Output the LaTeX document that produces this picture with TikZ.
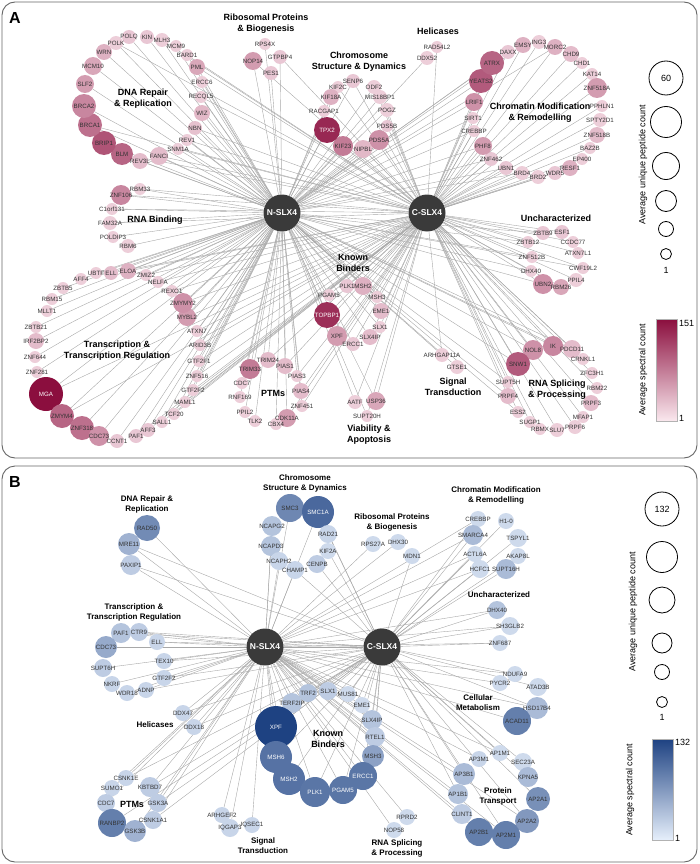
\documentclass[tikz,border=0pt]{standalone}
\usepackage{fontspec}
\setmainfont{Liberation Sans}
\pgfdeclarelayer{edges}
\pgfdeclarelayer{labels}
\pgfsetlayers{edges,main,labels}
\definecolor{amax}{RGB}{139,14,62}
\definecolor{amin}{RGB}{250,232,238}
\definecolor{bmax}{RGB}{30,66,130}
\definecolor{bmin}{RGB}{230,239,251}
\definecolor{hubgray}{RGB}{58,58,58}
\tikzset{
  gene/.style={circle, inner sep=0pt, draw=none},
  gtext/.style={font=\fontsize{6.2}{7}\selectfont, inner sep=0pt},
  cat/.style={font=\bfseries\fontsize{9}{11}\selectfont, align=center, inner sep=1pt},
  catb/.style={cat, font=\bfseries\fontsize{8}{10}\selectfont},
  hub/.style={circle, fill=hubgray, minimum size=37pt, inner sep=0pt, text=white,
    font=\bfseries\fontsize{8.5}{10}\selectfont},
  edge/.style={draw=black!34, line width=0.4pt},
  frame/.style={draw=black!60, line width=0.9pt, rounded corners=13pt},
  sizekey/.style={circle, draw=black, line width=0.8pt, inner sep=0pt},
  keytext/.style={font=\fontsize{9}{10}\selectfont, inner sep=0pt},
  panel/.style={font=\bfseries\fontsize{16}{18}\selectfont},
}
%% gene node: colour set, name, position, label, radius, percent
\newcommand{\gnode}[6]{%
  \ifnum#6>69 \def\gtc{white}\else\def\gtc{black!80}\fi
  \node[gene, minimum size={2*#5pt}, fill=#1max!#6!#1min] (#2) at (#3) {};
  \begin{pgfonlayer}{labels}
    \node[gtext, text=\gtc] (#2-t) at (#2) {#4};
  \end{pgfonlayer}}
\begin{document}
\begin{tikzpicture}[x=1pt,y=-1pt]
\useasboundingbox (0,0) rectangle (700,864);
\draw[frame] (2,2) rectangle (697,458);
\draw[frame] (2,466) rectangle (697,862);
\node[panel] (labA) at (15,18) {A};
\node[panel] (labB) at (15,482) {B};

%%%%%%%%%%%%%%%% panel A
\node[hub] (aN) at (282,213) {N-SLX4};
\node[hub] (aC) at (427,213) {C-SLX4};

%% DNA Repair & Replication
\gnode{a}{aPOLQ}{129,37}{POLQ}{7}{15}
\gnode{a}{aKIN}{147,37}{KIN}{7}{15}
\gnode{a}{aMLH3}{162,40}{MLH3}{7}{12}
\gnode{a}{aMCM9}{176,46}{MCM9}{6}{12}
\gnode{a}{aBARD1}{187,55}{BARD1}{6}{12}
\gnode{a}{aPML}{197,67}{PML}{8}{30}
\gnode{a}{aERCC6}{202,82}{ERCC6}{6}{12}
\gnode{a}{aRECQL5}{201,97}{RECQL5}{6}{12}
\gnode{a}{aWIZ}{202,113}{WIZ}{8}{22}
\gnode{a}{aNBN}{195,128}{NBN}{7}{18}
\gnode{a}{aREV1}{187,140}{REV1}{6}{12}
\gnode{a}{aSNM1A}{178,149}{SNM1A}{6}{12}
\gnode{a}{aFANCI}{159,156}{FANCI}{9}{20}
\gnode{a}{aREV3L}{140,161}{REV3L}{8}{20}
\gnode{a}{aBLM}{122,154}{BLM}{11}{60}
\gnode{a}{aBRIP1}{104,143}{BRIP1}{12}{68}
\gnode{a}{aBRCA1}{90,125}{BRCA1}{12}{55}
\gnode{a}{aBRCA2}{84,106}{BRCA2}{12}{45}
\gnode{a}{aSLF2}{85,84}{SLF2}{9}{35}
\gnode{a}{aMCM10}{93,66}{MCM10}{9}{30}
\gnode{a}{aWRN}{104,52}{WRN}{8}{25}
\gnode{a}{aPOLK}{116,43}{POLK}{7}{12}
\node[cat] (aDNAlab) at (143,99) {DNA Repair\\\& Replication};

%% Ribosomal Proteins & Biogenesis
\gnode{a}{aRPS4X}{265,44}{RPS4X}{6}{12}
\gnode{a}{aNOP14}{253,61}{NOP14}{9}{35}
\gnode{a}{aGTPBP4}{280,57}{GTPBP4}{7}{15}
\gnode{a}{aPES1}{271,73}{PES1}{7}{15}
\node[cat] (aRibolab) at (266,24) {Ribosomal Proteins\\\& Biogenesis};

%% Chromosome Structure & Dynamics
\gnode{a}{aSENP6}{353,81}{SENP6}{7}{15}
\gnode{a}{aKIF2C}{338,87}{KIF2C}{6}{12}
\gnode{a}{aODF2}{374,87}{ODF2}{7}{12}
\gnode{a}{aKIF18A}{331,97}{KIF18A}{8}{25}
\gnode{a}{aMISBP}{380,97}{MIS18BP1}{7}{12}
\gnode{a}{aRACGAP1}{324,111}{RACGAP1}{6}{12}
\gnode{a}{aPOGZ}{387,110}{POGZ}{7}{12}
\gnode{a}{aPDS5B}{387,126}{PDS5B}{6}{15}
\gnode{a}{aPDS5A}{379,140}{PDS5A}{10}{40}
\gnode{a}{aNIPBL}{363,149}{NIPBL}{9}{22}
\gnode{a}{aKIF23}{343,146}{KIF23}{10}{50}
\gnode{a}{aTPX2}{327,130}{TPX2}{13}{88}
\node[cat] (aChromlab) at (359,62) {Chromosome\\Structure \& Dynamics};

%% Helicases
\gnode{a}{aRAD54L2}{437,47}{RAD54L2}{6}{12}
\gnode{a}{aDDX52}{427,58}{DDX52}{7}{12}
\node[cat] (aHelilab) at (438,31) {Helicases};

%% Chromatin Modification & Remodelling
\gnode{a}{aDAXX}{508,52}{DAXX}{7}{15}
\gnode{a}{aEMSY}{523,45}{EMSY}{8}{25}
\gnode{a}{aING3}{539,42}{ING3}{7}{12}
\gnode{a}{aMORC2}{555,47}{MORC2}{8}{25}
\gnode{a}{aCHD9}{571,54}{CHD9}{8}{20}
\gnode{a}{aCHD1}{582,63}{CHD1}{6}{12}
\gnode{a}{aKAT14}{592,74}{KAT14}{6}{12}
\gnode{a}{aZNF518A}{597,88}{ZNF518A}{10}{35}
\gnode{a}{aPPHLN1}{602,106}{PPHLN1}{6}{12}
\gnode{a}{aSPTY2D1}{600,120}{SPTY2D1}{7}{12}
\gnode{a}{aZNF518B}{597,135}{ZNF518B}{8}{20}
\gnode{a}{aBAZ2B}{590,148}{BAZ2B}{6}{12}
\gnode{a}{aEP400}{582,159}{EP400}{6}{12}
\gnode{a}{aRESF1}{570,168}{RESF1}{8}{25}
\gnode{a}{aWDR5}{555,173}{WDR5}{7}{15}
\gnode{a}{aBRD2}{538,177}{BRD2}{7}{12}
\gnode{a}{aBRD4}{522,173}{BRD4}{7}{12}
\gnode{a}{aUBN1}{506,168}{UBN1}{7}{15}
\gnode{a}{aZNF462}{491,159}{ZNF462}{7}{15}
\gnode{a}{aPHF8}{483,146}{PHF8}{9}{35}
\gnode{a}{aCREBBP}{474,131}{CREBBP}{6}{12}
\gnode{a}{aSIRT1}{473,118}{SIRT1}{6}{12}
\gnode{a}{aLRIF1}{474,102}{LRIF1}{9}{40}
\gnode{a}{aYEATS2}{481,81}{YEATS2}{12}{65}
\gnode{a}{aATRX}{492,63}{ATRX}{12}{60}
\node[cat] (aChrmodlab) at (540,113) {Chromatin Modification\\\& Remodelling};

%% RNA Binding
\gnode{a}{aRBM33}{140,189}{RBM33}{6}{12}
\gnode{a}{aZNF106}{121,195}{ZNF106}{10}{45}
\gnode{a}{aC1orf131}{112,209}{C1orf131}{6}{12}
\gnode{a}{aFAM32A}{110,223}{FAM32A}{7}{12}
\gnode{a}{aPOLDIP3}{113,237}{POLDIP3}{6}{12}
\gnode{a}{aRBM6}{128,246}{RBM6}{7}{12}
\node[cat] (aRNAlab) at (155,220) {RNA Binding};

%% Transcription & Transcription Regulation
\gnode{a}{aELOA}{128,271}{ELOA}{8}{25}
\gnode{a}{aELL}{111,273}{ELL}{7}{20}
\gnode{a}{aUBTF}{96,273}{UBTF}{6}{12}
\gnode{a}{aAFF4}{81,279}{AFF4}{6}{12}
\gnode{a}{aZBTB5}{63,288}{ZBTB5}{6}{12}
\gnode{a}{aRBM15}{52,299}{RBM15}{6}{12}
\gnode{a}{aMLLT1}{47,311}{MLLT1}{6}{12}
\gnode{a}{aZBTB21}{36,327}{ZBTB21}{6}{12}
\gnode{a}{aIRF2BP2}{36,341}{IRF2BP2}{8}{20}
\gnode{a}{aZNF644}{35,357}{ZNF644}{6}{12}
\gnode{a}{aZNF281}{37,372}{ZNF281}{6}{12}
\gnode{a}{aMGA}{46,394}{MGA}{17}{100}
\gnode{a}{aZMYM4}{62,416}{ZMYM4}{12}{60}
\gnode{a}{aZNF318}{82,428}{ZNF318}{12}{55}
\gnode{a}{aCDC73}{99,436}{CDC73}{10}{40}
\gnode{a}{aCCNT1}{117,441}{CCNT1}{7}{15}
\gnode{a}{aPAF1}{136,436}{PAF1}{7}{15}
\gnode{a}{aAFF3}{148,430}{AFF3}{7}{15}
\gnode{a}{aSALL1}{162,422}{SALL1}{6}{12}
\gnode{a}{aTCF20}{174,414}{TCF20}{6}{12}
\gnode{a}{aMAML1}{185,402}{MAML1}{6}{12}
\gnode{a}{aGTF2F2}{193,390}{GTF2F2}{6}{12}
\gnode{a}{aZNF516}{197,376}{ZNF516}{6}{12}
\gnode{a}{aGTF2F1}{199,361}{GTF2F1}{6}{12}
\gnode{a}{aARID3B}{200,345}{ARID3B}{6}{12}
\gnode{a}{aATXN7}{197,331}{ATXN7}{6}{12}
\gnode{a}{aMYBL2}{187,317}{MYBL2}{9}{35}
\gnode{a}{aZMYM2}{183,303}{ZMYMY2}{10}{40}
\gnode{a}{aREXO1}{172,291}{REXO1}{6}{12}
\gnode{a}{aNELFA}{158,282}{NELFA}{6}{12}
\gnode{a}{aZMIZ2}{146,275}{ZMIZ2}{6}{12}
\node[cat] (aTranslab) at (117,351) {Transcription \&\\Transcription Regulation};

%% Known Binders
\gnode{a}{aPLK1}{347,286}{PLK1}{7}{15}
\gnode{a}{aMSH2}{363,286}{MSH2}{9}{25}
\gnode{a}{aMSH3}{377,297}{MSH3}{6}{12}
\gnode{a}{aPGAM5}{329,295}{PGAM5}{6}{12}
\gnode{a}{aEME1}{381,311}{EME1}{8}{20}
\gnode{a}{aTOPBP1}{327,315}{TOPBP1}{13}{85}
\gnode{a}{aSLX1}{380,327}{SLX1}{6}{12}
\gnode{a}{aSLX4IP}{370,337}{SLX4IP}{8}{20}
\gnode{a}{aERCC1}{353,344}{ERCC1}{7}{15}
\gnode{a}{aXPF}{337,336}{XPF}{10}{35}
\node[cat] (aKnownlab) at (353,263) {Known\\Binders};

%% PTMs
\gnode{a}{aTRIM24}{268,360}{TRIM24}{8}{20}
\gnode{a}{aTRIM33}{250,369}{TRIM33}{10}{50}
\gnode{a}{aPIAS1}{285,366}{PIAS1}{8}{20}
\gnode{a}{aPIAS3}{297,376}{PIAS3}{6}{12}
\gnode{a}{aPIAS4}{301,391}{PIAS4}{8}{20}
\gnode{a}{aZNF451}{302,406}{ZNF451}{6}{12}
\gnode{a}{aCDK11A}{287,418}{CDK11A}{9}{35}
\gnode{a}{aCBX4}{276,424}{CBX4}{6}{12}
\gnode{a}{aTLK2}{255,421}{TLK2}{6}{12}
\gnode{a}{aPPIL2}{245,412}{PPIL2}{6}{12}
\gnode{a}{aRNF169}{240,397}{RNF169}{6}{12}
\gnode{a}{aCDC7}{242,383}{CDC7}{6}{12}
\node[cat] (aPTMlab) at (273,393) {PTMs};

%% Viability & Apoptosis
\gnode{a}{aAATF}{355,402}{AATF}{7}{12}
\gnode{a}{aUSP36}{376,401}{USP36}{9}{30}
\gnode{a}{aSUPT20H}{367,416}{SUPT20H}{6}{12}
\node[cat] (aViablab) at (369,435) {Viability \&\\Apoptosis};

%% Uncharacterized
\gnode{a}{aZBTB9}{543,233}{ZBTB9}{7}{15}
\gnode{a}{aESF1}{562,232}{ESF1}{7}{15}
\gnode{a}{aZBTB12}{528,242}{ZBTB12}{6}{12}
\gnode{a}{aCCDC77}{573,242}{CCDC77}{6}{12}
\gnode{a}{aZNF512B}{532,257}{ZNF512B}{6}{12}
\gnode{a}{aATXN7L1}{578,253}{ATXN7L1}{6}{12}
\gnode{a}{aDHX40}{531,271}{DHX40}{6}{12}
\gnode{a}{aCWF19L2}{583,268}{CWF19L2}{6}{12}
\gnode{a}{aPPIL4}{576,280}{PPIL4}{7}{12}
\gnode{a}{aUBN2}{543,284}{UBN2}{10}{40}
\gnode{a}{aRBM26}{561,287}{RBM26}{8}{30}
\node[cat] (aUnchlab) at (556,218) {Uncharacterized};

%% Signal Transduction
\gnode{a}{aARHGAP11A}{442,355}{ARHGAP11A}{7}{12}
\gnode{a}{aGTSE1}{457,367}{GTSE1}{7}{12}
\node[cat] (aSignlab) at (453,387) {Signal\\Transduction};

%% RNA Splicing & Processing
\gnode{a}{aNOL8}{533,350}{NOL8}{10}{40}
\gnode{a}{aIK}{553,346}{IK}{10}{45}
\gnode{a}{aPDCD11}{572,349}{PDCD11}{9}{20}
\gnode{a}{aCRNKL1}{583,359}{CRNKL1}{6}{12}
\gnode{a}{aZFC3H1}{592,373}{ZFC3H1}{6}{12}
\gnode{a}{aRBM22}{597,388}{RBM22}{6}{12}
\gnode{a}{aPRPF3}{591,403}{PRPF3}{8}{20}
\gnode{a}{aMFAP1}{583,417}{MFAP1}{6}{12}
\gnode{a}{aPRPF6}{575,427}{PRPF6}{7}{12}
\gnode{a}{aSLU7}{557,430}{SLU7}{7}{12}
\gnode{a}{aRBMX}{540,429}{RBMX}{6}{12}
\gnode{a}{aSUGP1}{530,422}{SUGP1}{6}{12}
\gnode{a}{aESS2}{518,412}{ESS2}{6}{12}
\gnode{a}{aPRPF4}{508,396}{PRPF4}{8}{20}
\gnode{a}{aSUPT5H}{508,382}{SUPT5H}{6}{12}
\gnode{a}{aSNW1}{518,364}{SNW1}{12}{65}
\node[cat] (aSplilab) at (557,390) {RNA Splicing\\\& Processing};

%% edges A
\begin{pgfonlayer}{edges}
\foreach \g in {aPOLQ,aKIN,aMLH3,aMCM9,aBARD1,aPML,aERCC6,aRECQL5,aWIZ,aNBN,aREV1,aSNM1A,aFANCI,aREV3L,aBLM,aBRIP1,aBRCA1,aBRCA2,aSLF2,aMCM10,aWRN,aPOLK,%
  aRPS4X,aNOP14,aGTPBP4,aPES1,aSENP6,aKIF2C,aODF2,aKIF18A,aMISBP,aRACGAP1,aPOGZ,aPDS5B,aPDS5A,aNIPBL,aKIF23,aTPX2,aDDX52,%
  aATRX,aYEATS2,aLRIF1,aSIRT1,aCREBBP,aPHF8,aEMSY,aDAXX,aMORC2,aZNF462,aUBN1,aBRD4,%
  aRBM33,aZNF106,aC1orf131,aFAM32A,aPOLDIP3,aRBM6,%
  aELOA,aELL,aUBTF,aAFF4,aZBTB5,aRBM15,aMLLT1,aZBTB21,aIRF2BP2,aZNF644,aZNF281,aMGA,aZMYM4,aZNF318,aCDC73,aCCNT1,aPAF1,aAFF3,aSALL1,aTCF20,aMAML1,aGTF2F2,aZNF516,aGTF2F1,aARID3B,aATXN7,aMYBL2,aZMYM2,aREXO1,aNELFA,aZMIZ2,%
  aPLK1,aMSH2,aMSH3,aPGAM5,aEME1,aTOPBP1,aSLX1,aSLX4IP,aERCC1,aXPF,%
  aTRIM24,aTRIM33,aPIAS1,aPIAS3,aPIAS4,aZNF451,aCDK11A,aCBX4,aTLK2,aPPIL2,aRNF169,aCDC7,%
  aAATF,aUSP36,aSUPT20H,aZBTB9,aZBTB12,aZNF512B,aDHX40,aUBN2,aCWF19L2,aARHGAP11A,aGTSE1,%
  aSNW1,aNOL8,aIK,aSUPT5H,aPRPF4,aESS2,aPDCD11,aCRNKL1}
  \draw[edge] (aN) -- (\g);
\foreach \g in {aPOLK,aMLH3,aBARD1,aPML,aRECQL5,aNBN,aREV1,aSNM1A,aFANCI,aBRCA1,aBLM,aNOP14,aGTPBP4,%
  aKIF2C,aSENP6,aODF2,aMISBP,aPOGZ,aPDS5B,aPDS5A,aNIPBL,aKIF23,aTPX2,aRAD54L2,%
  aDAXX,aEMSY,aING3,aMORC2,aCHD9,aCHD1,aKAT14,aZNF518A,aPPHLN1,aSPTY2D1,aZNF518B,aBAZ2B,aEP400,aRESF1,aWDR5,aBRD2,aBRD4,aUBN1,aZNF462,aPHF8,aCREBBP,aSIRT1,aLRIF1,aYEATS2,aATRX,%
  aRBM33,aZNF106,aC1orf131,aFAM32A,%
  aELOA,aELL,aZMIZ2,aNELFA,aREXO1,aZMYM2,aMYBL2,aATXN7,aARID3B,aGTF2F1,aZNF516,aGTF2F2,aMAML1,aTCF20,aSALL1,aAFF3,aPAF1,aMGA,aZMYM4,%
  aPLK1,aMSH2,aMSH3,aPGAM5,aEME1,aTOPBP1,aSLX1,aSLX4IP,aERCC1,aXPF,%
  aTRIM24,aPIAS1,aPIAS3,aPIAS4,aZNF451,aCDK11A,aAATF,aUSP36,aSUPT20H,%
  aZBTB9,aESF1,aZBTB12,aCCDC77,aZNF512B,aATXN7L1,aDHX40,aCWF19L2,aPPIL4,aUBN2,aRBM26,aARHGAP11A,%
  aNOL8,aIK,aPDCD11,aCRNKL1,aZFC3H1,aRBM22,aPRPF3,aMFAP1,aPRPF6,aSLU7,aRBMX,aSUGP1,aESS2,aPRPF4,aSUPT5H,aSNW1}
  \draw[edge] (aC) -- (\g);
\end{pgfonlayer}

%% legend A
\foreach \y/\r [count=\i] in {78/17,122/15.5,166/13.5,201/10.5,229/7.5,254/5.5}
  \node[sizekey, minimum size=2*\r pt] (aKey\i) at (666,\y) {};
\node[keytext] (aKey60) at (aKey1) {60};
\node[keytext] (aKeyOne) at (666,270) {1};
\node[keytext, rotate=90] (aKeySize) at (643,165) {Average unique peptide count};
\shade[top color=amax, bottom color=amin] (656,319) rectangle (677,421);
\draw[black!30, line width=0.4pt] (656,319) rectangle (677,421);
\node[keytext, anchor=west] (aBarMax) at (679,323) {151};
\node[keytext, anchor=west] (aBarMin) at (679,418) {1};
\node[keytext, rotate=90] (aKeySpec) at (643,370) {Average spectral count};

%%%%%%%%%%%%%%%% panel B
\node[hub] (bN) at (265,647) {N-SLX4};
\node[hub] (bC) at (382,647) {C-SLX4};

%% DNA Repair & Replication
\gnode{b}{bRAD50}{147,528}{RAD50}{13}{58}
\gnode{b}{bMRE11}{129,544}{MRE11}{11}{35}
\gnode{b}{bPAXIP1}{131,565}{PAXIP1}{10}{20}
\node[catb] (bDNAlab) at (147,504) {DNA Repair \&\\Replication};

%% Transcription & Transcription Regulation
\gnode{b}{bPAF1}{121,633}{PAF1}{10}{25}
\gnode{b}{bCTR9}{139,632}{CTR9}{9}{20}
\gnode{b}{bELL}{157,642}{ELL}{8}{15}
\gnode{b}{bCDC73}{106,647}{CDC73}{11}{40}
\gnode{b}{bTEX10}{164,661}{TEX10}{8}{15}
\gnode{b}{bSUPT6H}{103,668}{SUPT6H}{9}{20}
\gnode{b}{bGTF2F2}{164,678}{GTF2F2}{8}{15}
\gnode{b}{bNKRF}{112,684}{NKRF}{8}{15}
\gnode{b}{bWDR18}{127,693}{WDR18}{8}{15}
\gnode{b}{bADNP}{146,690}{ADNP}{8}{15}
\node[catb] (bTranslab) at (134,612) {Transcription \&\\Transcription Regulation};

%% Helicases
\gnode{b}{bDDX47}{183,713}{DDX47}{8}{15}
\gnode{b}{bDDX18}{194,727}{DDX18}{8}{15}
\node[catb] (bHelilab) at (155,725) {Helicases};

%% PTMs
\gnode{b}{bCSNK1E}{126,778}{CSNK1E}{8}{15}
\gnode{b}{bSUMO1}{112,788}{SUMO1}{8}{15}
\gnode{b}{bKBTBD7}{150,787}{KBTBD7}{10}{20}
\gnode{b}{bCDC7}{106,803}{CDC7}{9}{20}
\gnode{b}{bGSK3A}{158,803}{GSK3A}{9}{20}
\gnode{b}{bCSNK1A1}{153,820}{CSNK1A1}{9}{20}
\gnode{b}{bRANBP2}{112,823}{RANBP2}{14}{65}
\gnode{b}{bGSK3B}{135,831}{GSK3B}{11}{35}
\node[cat] (bPTMlab) at (132,804) {PTMs};

%% Signal Transduction
\gnode{b}{bARHGEF2}{222,815}{ARHGEF2}{8}{15}
\gnode{b}{bIQGAP3}{230,828}{IQGAP3}{9}{15}
\gnode{b}{bIQSEC1}{252,825}{IQSEC1}{8}{15}
\node[catb] (bSignlab) at (263,846) {Signal\\Transduction};

%% Chromosome Structure & Dynamics
\gnode{b}{bSMC3}{290,508}{SMC3}{14}{60}
\gnode{b}{bSMC1A}{318,512}{SMC1A}{16}{78}
\gnode{b}{bNCAPG2}{272,526}{NCAPG2}{10}{25}
\gnode{b}{bRAD21}{328,534}{RAD21}{9}{15}
\gnode{b}{bNCAPD3}{271,546}{NCAPD3}{10}{25}
\gnode{b}{bKIF2A}{328,551}{KIF2A}{8}{12}
\gnode{b}{bNCAPH2}{279,561}{NCAPH2}{9}{15}
\gnode{b}{bCENPB}{317,564}{CENPB}{9}{20}
\gnode{b}{bCHAMP1}{295,570}{CHAMP1}{9}{15}
\node[catb] (bChromlab) at (305,483) {Chromosome\\Structure \& Dynamics};

%% Ribosomal Proteins & Biogenesis
\gnode{b}{bRPS27A}{373,544}{RPS27A}{8}{12}
\gnode{b}{bDHX30}{398,542}{DHX30}{8}{12}
\gnode{b}{bMDN1}{412,556}{MDN1}{8}{12}
\node[catb] (bRibolab) at (392,522) {Ribosomal Proteins\\\& Biogenesis};

%% Chromatin Modification & Remodelling
\gnode{b}{bCREBBP}{478,519}{CREBBP}{8}{12}
\gnode{b}{bH10}{506,521}{H1-0}{8}{12}
\gnode{b}{bSMARCA4}{473,535}{SMARCA4}{10}{30}
\gnode{b}{bTSPYL1}{518,538}{TSPYL1}{9}{12}
\gnode{b}{bACTL6A}{475,554}{ACTL6A}{8}{12}
\gnode{b}{bAKAP8L}{518,556}{AKAP8L}{8}{12}
\gnode{b}{bHCFC1}{480,569}{HCFC1}{9}{12}
\gnode{b}{bSUPT16H}{506,569}{SUPT16H}{10}{30}
\node[catb] (bChrmodlab) at (496,495) {Chromatin Modification\\\& Remodelling};

%% Uncharacterized
\gnode{b}{bDHX40}{497,610}{DHX40}{9}{25}
\gnode{b}{bSH3GLB2}{510,626}{SH3GLB2}{9}{12}
\gnode{b}{bZNF687}{500,643}{ZNF687}{8}{12}
\node[catb] (bUnchlab) at (499,595) {Uncharacterized};

%% Cellular Metabolism
\gnode{b}{bNDUFA9}{515,674}{NDUFA9}{8}{12}
\gnode{b}{bPYCR2}{500,683}{PYCR2}{8}{12}
\gnode{b}{bATAD3B}{538,687}{ATAD3B}{9}{12}
\gnode{b}{bHSD17B4}{537,708}{HSD17B4}{11}{30}
\gnode{b}{bACAD11}{517,721}{ACAD11}{14}{65}
\node[catb] (bMetablab) at (478,703) {Cellular\\Metabolism};

%% Protein Transport
\gnode{b}{bAP1M1}{500,753}{AP1M1}{8}{12}
\gnode{b}{bAP3M1}{479,759}{AP3M1}{8}{15}
\gnode{b}{bSEC23A}{523,762}{SEC23A}{9}{12}
\gnode{b}{bAP3B1}{464,774}{AP3B1}{11}{30}
\gnode{b}{bKPNA5}{528,777}{KPNA5}{10}{30}
\gnode{b}{bAP1B1}{458,794}{AP1B1}{10}{25}
\gnode{b}{bAP2A1}{538,799}{AP2A1}{12}{55}
\gnode{b}{bCLINT1}{462,814}{CLINT1}{10}{20}
\gnode{b}{bAP2A2}{527,821}{AP2A2}{12}{50}
\gnode{b}{bAP2B1}{479,832}{AP2B1}{14}{65}
\gnode{b}{bAP2M1}{506,835}{AP2M1}{14}{65}
\node[catb] (bTransplab) at (498,796) {Protein\\Transport};

%% Known Binders
\gnode{b}{bTRF2}{308,693}{TRF2}{9}{25}
\gnode{b}{bSLX1}{328,691}{SLX1}{9}{20}
\gnode{b}{bMUS81}{348,694}{MUS81}{8}{12}
\gnode{b}{bTERF2IP}{292,703}{TERF2IP}{10}{25}
\gnode{b}{bEME1}{362,705}{EME1}{8}{12}
\gnode{b}{bXPF}{276,727}{XPF}{21}{100}
\gnode{b}{bSLX4IP}{372,720}{SLX4IP}{10}{25}
\gnode{b}{bRTEL1}{375,737}{RTEL1}{10}{20}
\gnode{b}{bMSH6}{276,757}{MSH6}{16}{72}
\gnode{b}{bMSH3}{373,756}{MSH3}{11}{45}
\gnode{b}{bMSH2}{289,779}{MSH2}{16}{72}
\gnode{b}{bERCC1}{363,776}{ERCC1}{14}{70}
\gnode{b}{bPLK1}{315,792}{PLK1}{15}{70}
\gnode{b}{bPGAM5}{343,790}{PGAM5}{14}{70}
\node[cat] (bKnownlab) at (328,739) {Known\\Binders};

%% RNA Splicing & Processing
\gnode{b}{bRPRD2}{407,817}{RPRD2}{8}{12}
\gnode{b}{bNOP58}{394,830}{NOP58}{8}{12}
\node[catb] (bSplilab) at (397,848) {RNA Splicing\\\& Processing};

%% edges B
\begin{pgfonlayer}{edges}
\foreach \g in {bRAD50,bMRE11,bPAXIP1,bPAF1,bCTR9,bELL,bCDC73,bTEX10,bSUPT6H,bGTF2F2,bNKRF,bWDR18,bADNP,bDDX47,bDDX18,%
  bCSNK1E,bSUMO1,bKBTBD7,bCDC7,bGSK3A,bCSNK1A1,bGSK3B,bARHGEF2,bIQGAP3,bIQSEC1,%
  bSMC3,bNCAPG2,bNCAPD3,bNCAPH2,bCHAMP1,bSMC1A,bRPS27A,bDHX30,%
  bCREBBP,bSMARCA4,bACTL6A,bHCFC1,bDHX40,bSH3GLB2,bZNF687,bPYCR2,bNDUFA9,bHSD17B4,bACAD11,%
  bAP1M1,bAP3M1,bAP3B1,bAP1B1,bCLINT1,bAP2B1,bAP2M1,bAP2A2,%
  bTRF2,bSLX1,bMUS81,bTERF2IP,bEME1,bXPF,bSLX4IP,bRTEL1,bMSH6,bMSH3,bMSH2,bERCC1,bPLK1,bPGAM5,bRPRD2,bNOP58}
  \draw[edge] (bN) -- (\g);
\foreach \g in {bMRE11,bPAXIP1,bPAF1,bCTR9,bELL,bCDC73,bTEX10,bGTF2F2,bADNP,bDDX47,bDDX18,%
  bCSNK1E,bKBTBD7,bGSK3A,bRANBP2,bCSNK1A1,bSMC1A,bRAD21,bKIF2A,bCENPB,bCHAMP1,bMDN1,%
  bCREBBP,bH10,bSMARCA4,bTSPYL1,bACTL6A,bAKAP8L,bHCFC1,bSUPT16H,bDHX40,bSH3GLB2,bZNF687,%
  bNDUFA9,bATAD3B,bHSD17B4,bAP1M1,bSEC23A,bAP3B1,bKPNA5,bAP1B1,bAP2A1,bAP2A2,bAP2M1,%
  bTRF2,bSLX1,bMUS81,bTERF2IP,bEME1,bXPF,bSLX4IP,bRTEL1,bMSH3,bERCC1,bPLK1,bPGAM5,bMSH2,bMSH6}
  \draw[edge] (bC) -- (\g);
\end{pgfonlayer}

%% legend B
\foreach \y/\r [count=\i] in {509/17,557/15.5,600/13,643/10,672/7.5,702/5.5}
  \node[sizekey, minimum size=2*\r pt] (bKey\i) at (662,\y) {};
\node[keytext] (bKey132) at (bKey1) {132};
\node[keytext] (bKeyOne) at (662,717) {1};
\node[keytext, rotate=90] (bKeySize) at (633,612) {Average unique peptide count};
\shade[top color=bmax, bottom color=bmin] (652,739) rectangle (673,840);
\draw[black!30, line width=0.4pt] (652,739) rectangle (673,840);
\node[keytext, anchor=west] (bBarMax) at (675,742) {132};
\node[keytext, anchor=west] (bBarMin) at (675,838) {1};
\node[keytext, rotate=90] (bKeySpec) at (630,790) {Average spectral count};
\end{tikzpicture}
\end{document}
